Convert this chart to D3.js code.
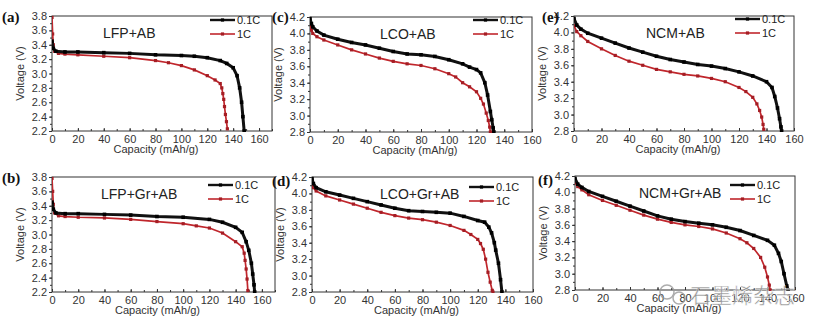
<!DOCTYPE html>
<html>
<head>
<meta charset="utf-8">
<script src="https://cdn.jsdelivr.net/npm/d3@7"></script>
<style>
body { margin: 0; background: #fff; }
svg { display: block; }
.tick text { font-family: "Liberation Sans", Arial, sans-serif; font-size: 11px; fill: #333; }
.lbl { font-family: "Liberation Sans", Arial, sans-serif; font-size: 11px; fill: #333; }
.ttl { font-family: "Liberation Sans", Arial, sans-serif; font-size: 14px; fill: #222; }
.leg { font-family: "Liberation Sans", Arial, sans-serif; font-size: 11px; fill: #222; }
.tag { font-family: "Liberation Serif", "Times New Roman", serif; font-size: 15px; font-weight: bold; fill: #111; }
</style>
</head>
<body>
<svg id="chart" width="822" height="330"></svg>
<script>
// discharge curves, [capacity mAh/g, voltage V]
const lfp_ab_01 = [[0,3.45],[1,3.35],[3,3.31],[10,3.30],[20,3.30],[40,3.29],[60,3.28],[80,3.26],[100,3.25],[110,3.24],[120,3.22],[130,3.18],[135,3.14],[140,3.08],[143,2.97],[145,2.80],[146.5,2.6],[147.5,2.4],[148.5,2.2]];
const lfp_ab_1 = [[0,3.78],[0.5,3.55],[1,3.40],[2,3.31],[5,3.28],[10,3.27],[20,3.26],[40,3.24],[60,3.22],[80,3.18],[90,3.15],[100,3.11],[110,3.05],[120,2.97],[126,2.91],[130,2.86],[131.2,2.80],[132,2.72],[132.7,2.64],[133.3,2.54],[134,2.43],[134.8,2.33],[135.5,2.23]];

const lfp_gr_01 = [[0,3.45],[1,3.35],[3,3.30],[10,3.29],[20,3.29],[40,3.28],[60,3.27],[80,3.25],[100,3.24],[120,3.21],[130,3.17],[140,3.10],[145,3.03],[148,2.9],[150,2.78],[152,2.6],[153,2.45],[154,2.3],[154.5,2.2]];
const lfp_gr_1 = [[0,3.78],[0.5,3.6],[1,3.42],[2,3.30],[5,3.26],[10,3.25],[20,3.24],[40,3.23],[60,3.21],[80,3.18],[100,3.15],[110,3.12],[120,3.09],[130,3.02],[140,2.90],[145,2.83],[146.5,2.74],[147.2,2.64],[148,2.52],[148.7,2.38],[149.3,2.22]];

const lco_ab_01 = [[0,4.18],[1,4.12],[2,4.08],[5,4.03],[10,3.98],[20,3.93],[30,3.89],[40,3.86],[50,3.82],[60,3.78],[70,3.75],[80,3.74],[90,3.72],[100,3.68],[110,3.63],[115,3.59],[120,3.56],[123,3.52],[126,3.40],[128,3.25],[130,3.05],[131,2.95],[132,2.85],[132.5,2.8]];
const lco_ab_1 = [[0,4.10],[1,4.04],[2,4.00],[5,3.96],[10,3.92],[20,3.86],[30,3.80],[40,3.75],[50,3.70],[60,3.66],[70,3.63],[80,3.61],[90,3.57],[100,3.51],[105,3.47],[110,3.40],[115,3.35],[120,3.29],[123,3.21],[125,3.14],[127,3.03],[128.5,2.94],[129.5,2.86],[130,2.8]];

const lco_gr_01 = [[0,4.18],[1,4.12],[3,4.07],[10,4.02],[20,3.98],[30,3.94],[40,3.90],[50,3.86],[60,3.82],[70,3.79],[80,3.78],[90,3.77],[100,3.76],[110,3.72],[120,3.67],[125,3.65],[128,3.59],[130,3.52],[132,3.40],[133,3.31],[135,3.15],[136.5,2.95],[137.5,2.8]];
const lco_gr_1 = [[0,4.12],[1,4.07],[3,4.03],[10,3.97],[20,3.92],[30,3.87],[40,3.82],[50,3.77],[60,3.73],[70,3.70],[80,3.68],[90,3.65],[100,3.61],[110,3.55],[115,3.50],[120,3.44],[122,3.39],[124,3.32],[125.7,3.20],[127.4,3.04],[129,2.92],[130.5,2.82],[131,2.8]];

const ncm_ab_01 = [[0,4.17],[2,4.09],[5,4.04],[10,3.99],[20,3.93],[30,3.87],[40,3.81],[50,3.76],[60,3.71],[70,3.67],[80,3.64],[90,3.61],[100,3.59],[110,3.56],[120,3.52],[130,3.47],[140,3.40],[144,3.33],[146,3.22],[148,3.08],[149.5,2.95],[150.5,2.85],[151,2.8]];
const ncm_ab_1 = [[0,4.08],[2,4.01],[5,3.96],[10,3.89],[20,3.80],[30,3.72],[40,3.65],[50,3.60],[60,3.55],[70,3.52],[80,3.49],[90,3.47],[100,3.44],[110,3.40],[120,3.33],[125,3.28],[130,3.21],[133,3.13],[135,3.05],[136.5,2.97],[137.5,2.88],[138,2.82]];

const ncm_gr_01 = [[0,4.17],[2,4.10],[5,4.06],[10,4.01],[20,3.95],[30,3.89],[40,3.83],[50,3.77],[60,3.71],[70,3.67],[80,3.64],[90,3.62],[100,3.60],[110,3.57],[120,3.53],[130,3.47],[140,3.41],[145,3.35],[148,3.25],[150,3.15],[152,3.0],[154,2.85],[155,2.8]];
const ncm_gr_1 = [[0,4.12],[2,4.07],[5,4.03],[10,3.97],[20,3.90],[30,3.84],[40,3.78],[50,3.72],[60,3.67],[70,3.63],[80,3.60],[90,3.58],[100,3.55],[110,3.50],[120,3.43],[125,3.38],[130,3.31],[135,3.20],[138,3.08],[140,2.96],[141.3,2.86],[142,2.8]];

const series_names = ['0.1C', '1C'];
const panel_tags = ['(a)', '(b)', '(c)', '(d)', '(e)', '(f)'];
const panel_titles = ['LFP+AB', 'LFP+Gr+AB', 'LCO+AB', 'LCO+Gr+AB', 'NCM+AB', 'NCM+Gr+AB'];
const panel_series = [[lfp_ab_01, lfp_ab_1], [lfp_gr_01, lfp_gr_1], [lco_ab_01, lco_ab_1], [lco_gr_01, lco_gr_1], [ncm_ab_01, ncm_ab_1], [ncm_gr_01, ncm_gr_1]];
const x_max = [170, 170, 160, 160, 160, 160];
const y_ranges = [[2.2, 3.8], [2.2, 3.8], [2.8, 4.2], [2.8, 4.2], [2.8, 4.2], [2.8, 4.2]];
const x_ticks = [0, 20, 40, 60, 80, 100, 120, 140, 160];

// panel boxes: left, right, top, bottom; tag / title / legend anchors
const layout = [
	{l: 52, r: 272, t: 16, b: 131, gx: 2, gy: 22, tx: 103, lx: 210, ly: 20},
	{l: 52, r: 275, t: 177, b: 292, gx: 2, gy: 183, tx: 101, lx: 208, ly: 185},
	{l: 310, r: 532, t: 17, b: 132, gx: 272, gy: 22, tx: 380, lx: 473, ly: 20},
	{l: 312, r: 533, t: 177, b: 292, gx: 272, gy: 186, tx: 380, lx: 469, ly: 187},
	{l: 574, r: 794, t: 16, b: 131, gx: 542, gy: 22, tx: 646, lx: 735, ly: 19},
	{l: 575, r: 795, t: 176, b: 290, gx: 538, gy: 185, tx: 639, lx: 730, ly: 185}
];

const colors = ['#111', '#c0262c'];

const svg = d3.select('#chart');

panel_titles.forEach(function (title, i) {
	const p = layout[i];
	const g = svg.append('g');

	const x = d3.scaleLinear().domain([0, x_max[i]]).range([p.l, p.r]);
	const y = d3.scaleLinear().domain(y_ranges[i]).range([p.b, p.t]);

	const y_major = d3.range(y_ranges[i][0], y_ranges[i][1] + 0.01, 0.2).map(v => +v.toFixed(1));
	const y_minor = d3.range(y_ranges[i][0], y_ranges[i][1] + 0.01, 0.1).map(v => +v.toFixed(2));
	const x_minor = d3.range(0, x_max[i] + 0.1, 10);

	// frame
	g.append('rect')
		.attr('x', p.l).attr('y', p.t)
		.attr('width', p.r - p.l).attr('height', p.b - p.t)
		.attr('fill', 'none').attr('stroke', '#333').attr('stroke-width', 1);

	// minor ticks
	g.append('g')
		.attr('transform', 'translate(0,' + p.b + ')')
		.call(d3.axisBottom(x).tickValues(x_minor).tickSize(-2).tickFormat(''))
		.call(a => a.select('.domain').remove())
		.selectAll('line').attr('stroke', '#333');
	g.append('g')
		.attr('transform', 'translate(' + p.l + ',0)')
		.call(d3.axisLeft(y).tickValues(y_minor).tickSize(2).tickFormat(''))
		.call(a => a.select('.domain').remove())
		.selectAll('line').attr('stroke', '#333');

	// major ticks with labels
	g.append('g')
		.attr('transform', 'translate(0,' + p.b + ')')
		.call(d3.axisBottom(x).tickValues(x_ticks).tickSize(-3).tickPadding(4).tickFormat(d3.format('d')))
		.call(a => a.select('.domain').remove())
		.selectAll('line').attr('stroke', '#333');
	g.append('g')
		.attr('transform', 'translate(' + p.l + ',0)')
		.call(d3.axisLeft(y).tickValues(y_major).tickSize(3).tickPadding(2).tickFormat(d3.format('.1f')))
		.call(a => a.select('.domain').remove())
		.selectAll('line').attr('stroke', '#333');

	// axis titles
	g.append('text').attr('class', 'lbl')
		.attr('x', (p.l + p.r) / 2 - 6).attr('y', p.b + 22)
		.attr('text-anchor', 'middle')
		.text('Capacity (mAh/g)');
	g.append('text').attr('class', 'lbl')
		.attr('transform', 'translate(' + (p.l - 28) + ',' + ((p.t + p.b) / 2) + ') rotate(-90)')
		.attr('text-anchor', 'middle')
		.text('Voltage (V)');

	// panel tag
	g.append('text').attr('class', 'tag')
		.attr('x', p.gx).attr('y', p.gy)
		.text(panel_tags[i]);

	g.append('text').attr('class', 'ttl')
		.attr('x', p.tx).attr('y', p.t + 22)
		.text(title);

	const line = d3.line().x(d => x(d[0])).y(d => y(d[1]));
	const clip_id = 'clip' + i;
	svg.append('clipPath').attr('id', clip_id)
		.append('rect').attr('x', p.l).attr('y', p.t - 1).attr('width', p.r - p.l).attr('height', p.b - p.t + 2);

	const plot = g.append('g').attr('clip-path', 'url(#' + clip_id + ')');

	// draw 1C first so 0.1C sits on top
	[1, 0].forEach(function (s) {
		const data = panel_series[i][s];
		const w = s == 0 ? 3 : 1.7;
		const m = s == 0 ? 3.6 : 3.2;
		plot.append('path')
			.datum(data)
			.attr('d', line)
			.attr('fill', 'none')
			.attr('stroke', colors[s])
			.attr('stroke-width', w);
		plot.selectAll('.mk' + s)
			.data(data)
			.enter()
			.append('rect')
			.attr('x', d => x(d[0]) - m / 2)
			.attr('y', d => y(d[1]) - m / 2)
			.attr('width', m).attr('height', m)
			.attr('fill', s == 0 ? '#000' : '#a51d24');
	});

	// legend
	series_names.forEach(function (name, s) {
		const ly = p.ly + s * 14;
		g.append('line')
			.attr('x1', p.lx).attr('x2', p.lx + 25)
			.attr('y1', ly).attr('y2', ly)
			.attr('stroke', colors[s]).attr('stroke-width', s == 0 ? 2.4 : 1.6);
		g.append('rect')
			.attr('x', p.lx + 12.5 - 1.6).attr('y', ly - 1.6)
			.attr('width', 3.2).attr('height', 3.2)
			.attr('fill', s == 0 ? '#000' : '#a51d24');
		g.append('text').attr('class', 'leg')
			.attr('x', p.lx + 27).attr('y', ly + 4)
			.text(name);
	});
});

// account watermark in the lower right corner
const wm = svg.append('g').attr('opacity', 0.8);
wm.append('circle').attr('cx', 667).attr('cy', 292).attr('r', 7)
	.attr('fill', 'none').attr('stroke', '#999').attr('stroke-width', 1.5);
wm.append('circle').attr('cx', 679).attr('cy', 298).attr('r', 6)
	.attr('fill', 'none').attr('stroke', '#999').attr('stroke-width', 1.5);
wm.append('text')
	.attr('x', 690).attr('y', 303)
	.attr('font-family', '"Noto Sans CJK SC", sans-serif')
	.attr('font-size', 21)
	.attr('fill', '#7a7a7a')
	.attr('stroke', '#fff').attr('stroke-width', 0.5)
	.text('石墨烯杂志');
</script>
</body>
</html>
